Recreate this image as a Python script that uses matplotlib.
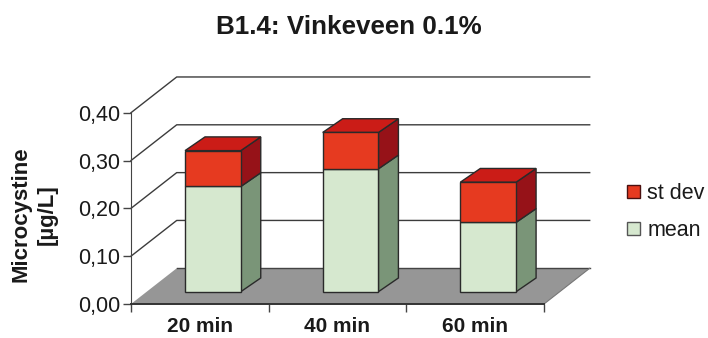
import matplotlib
matplotlib.use('Agg')
import matplotlib.pyplot as plt
from matplotlib.patches import Patch

plt.rcParams['font.family'] = ['Liberation Sans', 'DejaVu Sans']

categories = ['20 min', '40 min', '60 min']
mean = [0.220, 0.257, 0.145]
st_dev = [0.075, 0.076, 0.084]
y_ticks = [0.0, 0.1, 0.2, 0.3, 0.4]
y_labels = ['0,00', '0,10', '0,20', '0,30', '0,40']

W, H = 708, 338
fig = plt.figure(figsize=(W / 100, H / 100), dpi=100)
# axes = front plane of the fake 3d box
ax = fig.add_axes([131 / W, 1 - 304 / H, 413 / W, 191.3 / H])
ax.set_xlim(0, 3)
ax.set_ylim(0, 0.4)

# depth offsets, in data units
wall_dx, wall_dy = 0.332, 0.0747
shift_dx, shift_dy = 0.095, 0.0257
bar_dx, bar_dy = 0.145, 0.0287
bar_w = 0.405

floor_col = '#969696'
line_col = '#3c3c3c'

ax.fill([0, 3, 3 + wall_dx, wall_dx], [0, 0, wall_dy, wall_dy],
        color=floor_col, lw=0, clip_on=False, zorder=1)
ax.plot([wall_dx, 3 + wall_dx], [wall_dy, wall_dy], color='#444444', lw=1.0, clip_on=False, zorder=1.5)

for t in y_ticks[1:]:
    ax.plot([0, wall_dx, 3 + wall_dx], [t, t + wall_dy, t + wall_dy],
            color=line_col, lw=1.0, clip_on=False, zorder=1)
ax.plot([3, 3 + wall_dx], [0, wall_dy], color='#777777', lw=0.8, clip_on=False, zorder=1.5)


def draw_box(x0, y0, y1, front, side, top=None):
    x1 = x0 + bar_w
    edge = dict(edgecolor='#2a2a2a', lw=1.0, clip_on=False, zorder=3)
    ax.fill([x1, x1 + bar_dx, x1 + bar_dx, x1],
            [y0, y0 + bar_dy, y1 + bar_dy, y1], facecolor=side, **edge)
    if top is not None:
        ax.fill([x0, x1, x1 + bar_dx, x0 + bar_dx],
                [y1, y1, y1 + bar_dy, y1 + bar_dy], facecolor=top, **edge)
    ax.fill([x0, x1, x1, x0], [y0, y0, y1, y1], facecolor=front, **edge)


for i in range(len(categories)):
    x0 = i + 0.5 - bar_w / 2 + shift_dx
    b = shift_dy
    draw_box(x0, b, b + mean[i], '#d6e8cf', '#7a9578')
    draw_box(x0, b + mean[i], b + mean[i] + st_dev[i], '#e63a20', '#961218', '#cb1c17')

ax.set_xticks([0, 1, 2, 3])
ax.set_xticklabels([])
ax.set_xticks([0.5, 1.5, 2.5], labels=categories, minor=True)
ax.tick_params(axis='x', which='minor', length=0, pad=9.5, labelsize=15)
ax.tick_params(axis='x', which='major', length=6, width=1, color='#444444')
for lab in ax.get_xticklabels(minor=True):
    lab.set_fontweight('bold')
    lab.set_color('#1a1a1a')
ax.set_yticks(y_ticks, labels=y_labels)
ax.tick_params(axis='y', length=6, width=1, color='#444444', labelsize=15.5, pad=2, labelcolor='#1a1a1a')

ax.patch.set_visible(False)
ax.spines['top'].set_visible(False)
ax.spines['right'].set_visible(False)
ax.spines['left'].set_color('#444444')
ax.spines['bottom'].set_color('#333333')
ax.spines['bottom'].set_linewidth(1.4)

fig.text(34 / W, 1 - 214.5 / H, 'Microcystine\n[µg/L]', rotation=90, ha='center', va='center', multialignment='center',
         fontsize=16, fontweight='bold', color='#1a1a1a', linespacing=1.3)

fig.text(349 / W, 1 - 27 / H, 'B1.4: Vinkeveen 0.1%', ha='center', va='center',
         fontsize=18.7, fontweight='bold', color='#1a1a1a')

handles = [Patch(facecolor='#e63a20', edgecolor='#4a1010', label='st dev'),
           Patch(facecolor='#d6e8cf', edgecolor='#555555', label='mean')]
fig.legend(handles=handles, loc='center left', bbox_to_anchor=(627 / W, 1 - 212 / H), frameon=False,
           fontsize=15.5, handlelength=0.6, handleheight=0.6, handletextpad=0.35,
           labelspacing=0.75, borderpad=0, borderaxespad=0, labelcolor='#1a1a1a')

fig.savefig('out.png', dpi=100)
